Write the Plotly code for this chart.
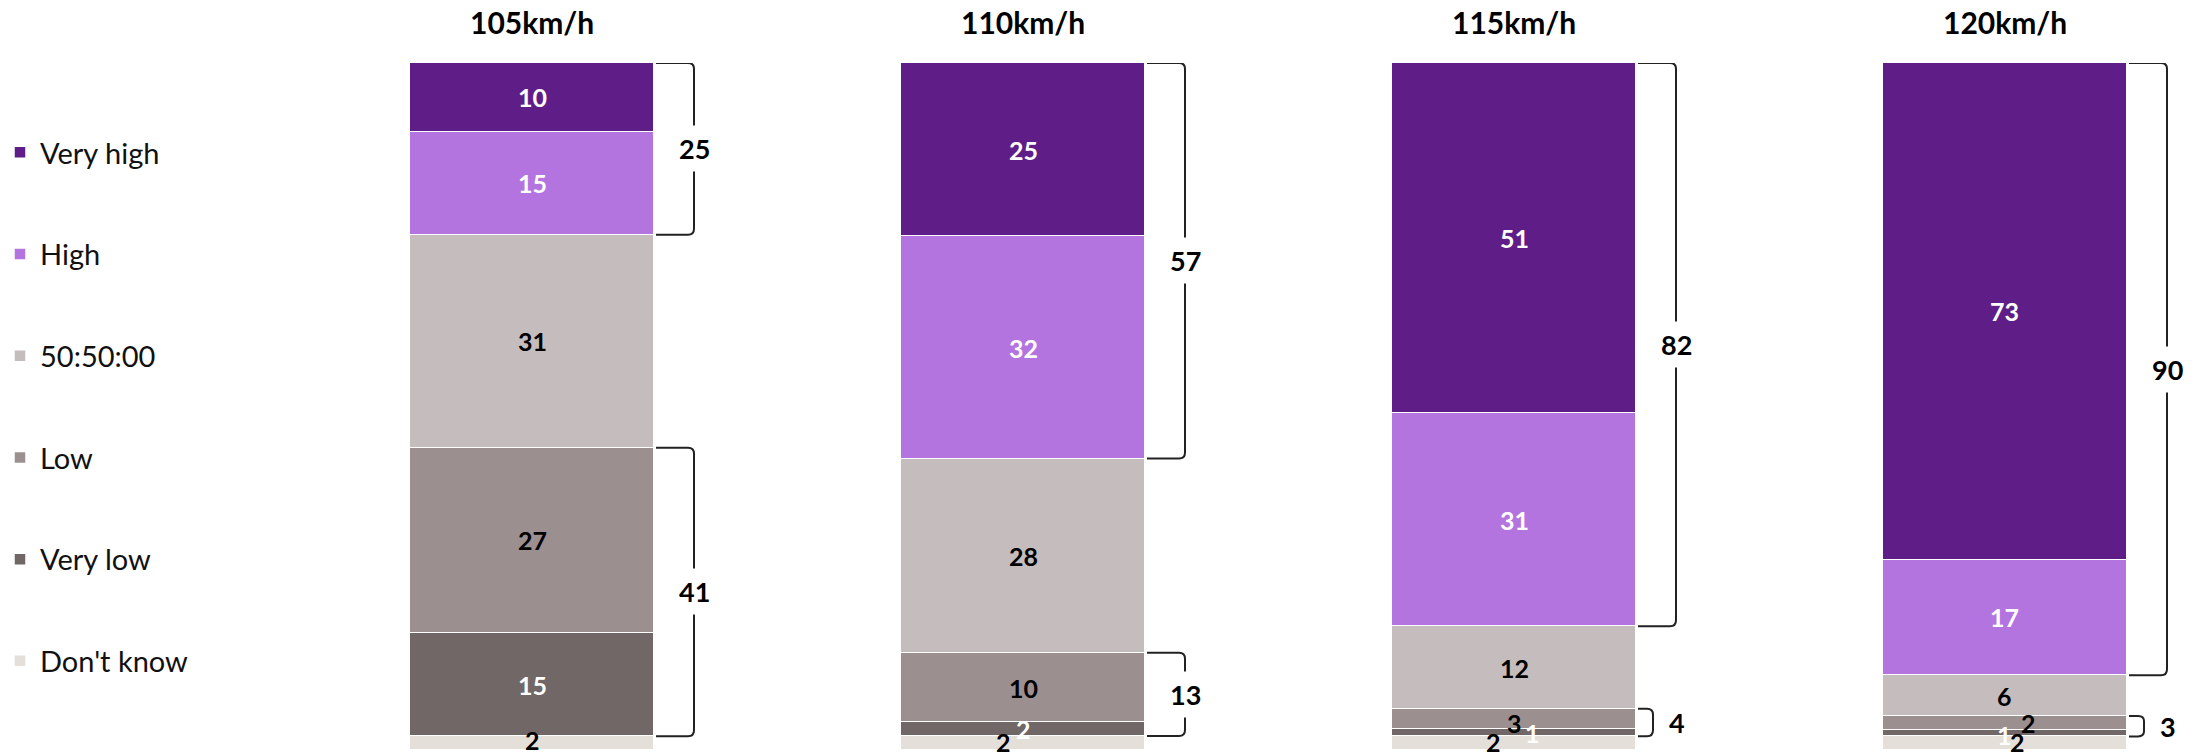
import plotly.graph_objects as go

# Survey answers per speed limit (percent of respondents)
speeds = ["105km/h", "110km/h", "115km/h", "120km/h"]
categories = ["Very high", "High", "50:50:00", "Low", "Very low", "Don't know"]
very_high = [10, 25, 51, 73]
high = [15, 32, 31, 17]
fifty_fifty = [31, 28, 12, 6]
low = [27, 10, 3, 2]
very_low = [15, 2, 1, 1]
dont_know = [2, 2, 2, 2]
# Net scores shown beside the brackets
high_net = [25, 57, 82, 90]
low_net = [41, 13, 4, 3]

series = [very_high, high, fifty_fifty, low, very_low, dont_know]
colors = ["#5f1e87", "#b474e0", "#c5bcbd", "#9b8f8f", "#716767", "#e5dfd9"]
label_colors = ["white", "white", "black", "black", "white", "black"]

# Nudges (px) for labels that sit on very thin segments: (bar, category) -> (dx, dy)
LABEL_NUDGE = {
    (0, 5): (0, 3),
    (1, 5): (-20, 1),
    (2, 3): (0, -4),
    (2, 4): (18, 0),
    (2, 5): (-21, 1),
    (3, 3): (24, 0),
    (3, 4): (0, -2),
    (3, 5): (13, 1),
}

W, H = 2201, 756
FONT = "Lato"
BAR_PX = 244.0
BAR_LEFT0 = 410.0
BAR_STEP = 491.0
X_RANGE = [-0.5, 0.8]
Y_TOP_PX, Y_BOT_PX = 63.0, 750.0
px_x = BAR_PX  # pixels per x unit
px_y = (Y_BOT_PX - Y_TOP_PX) / 100.0  # pixels per percent

fig = go.Figure()
layout_axes = {}
shapes = []
annotations = []

for i, speed in enumerate(speeds):
    n = i + 1
    sfx = "" if n == 1 else str(n)
    xa, ya = "x" + sfx, "y" + sfx
    left = BAR_LEFT0 + BAR_STEP * i
    right = left + (X_RANGE[1] - X_RANGE[0]) * BAR_PX
    layout_axes["xaxis" + sfx] = dict(
        domain=[left / W, right / W], range=X_RANGE, visible=False,
        fixedrange=True, anchor=ya)
    layout_axes["yaxis" + sfx] = dict(
        domain=[(H - Y_BOT_PX) / H, (H - Y_TOP_PX) / H], range=[0, 100],
        visible=False, anchor=xa, fixedrange=True)

    vals = [s[i] for s in series]
    norm = 100.0 / sum(vals)

    # stack from the bottom: Don't know first, Very high last
    for k in reversed(range(len(categories))):
        fig.add_trace(go.Bar(
            x=[0], y=[vals[k]], width=1, name=categories[k],
            marker=dict(color=colors[k], line=dict(color="white", width=1.5)),
            xaxis=xa, yaxis=ya, legendgroup=categories[k], legendrank=k + 1,
            showlegend=(i == 0), hoverinfo="skip"))

    # segment labels
    cum = 0.0
    bounds = {}
    for k in reversed(range(len(categories))):
        h = vals[k] * norm
        bounds[k] = (cum, cum + h)
        dx, dy = LABEL_NUDGE.get((i, k), (0, 0))
        annotations.append(dict(
            x=0, y=cum + h / 2, xref=xa, yref=ya, text=str(vals[k]),
            showarrow=False, xshift=dx, yshift=dy,
            font=dict(family=FONT, size=25, color=label_colors[k], weight="bold")))
        cum += h

    # brackets: top = Very high + High, bottom = Low + Very low
    groups = [
        (bounds[1][0], bounds[0][1], high_net[i]),
        (bounds[4][0], bounds[3][1], low_net[i]),
    ]
    for y0, y1, net in groups:
        span_px = (y1 - y0) * px_y
        small = span_px < 45
        arm = 15 if small else 38
        xv = 0.5 + (arm + 2) / px_x
        x0 = 0.5 + 2 / px_x
        rx = 6 / px_x
        ry = min(6, span_px / 4) / px_y
        path = (f"M {x0},{y1} L {xv - rx},{y1} Q {xv},{y1} {xv},{y1 - ry} "
                f"L {xv},{y0 + ry} Q {xv},{y0} {xv - rx},{y0} L {x0},{y0}")
        shapes.append(dict(type="path", path=path, xref=xa, yref=ya,
                           line=dict(color="#222222", width=2)))
        ann = dict(x=xv, y=(y0 + y1) / 2, xref=xa, yref=ya, text=str(net),
                   showarrow=False,
                   font=dict(family=FONT, size=27, color="black", weight="bold"))
        if small:
            ann["xshift"] = 24
        else:
            ann["bgcolor"] = "white"
            ann["borderpad"] = 6
        annotations.append(ann)

    # speed heading above each bar
    annotations.append(dict(
        x=0, y=(H - 22) / H, xref=xa, yref="paper", text=speed, showarrow=False,
        yanchor="middle",
        font=dict(family=FONT, size=30, color="black", weight="bold")))

fig.update_layout(
    width=W, height=H,
    margin=dict(l=0, r=0, t=0, b=0),
    paper_bgcolor="white", plot_bgcolor="white",
    barmode="stack", barnorm="percent", bargap=0,
    shapes=shapes, annotations=annotations,
    legend=dict(
        x=0.0, xanchor="left", y=(H - 127) / H, yanchor="top",
        traceorder="grouped", tracegroupgap=61,
        font=dict(family=FONT, size=29, color="#111111"),
        bgcolor="rgba(0,0,0,0)"),
    **layout_axes,
)

fig.write_html("out.html")
